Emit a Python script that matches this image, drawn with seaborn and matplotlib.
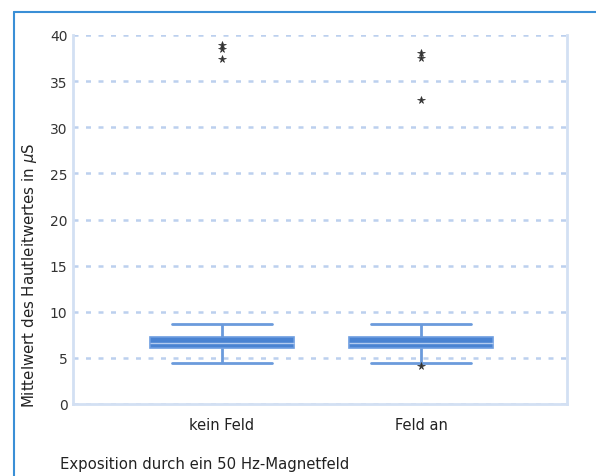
import numpy as np
import pandas as pd
import matplotlib
matplotlib.use("Agg")
import matplotlib.pyplot as plt
import seaborn as sns

categories = ["kein Feld", "Feld an"]
# observations read/estimated from the box plot (whiskers, quartiles, median, outliers)
kein_feld = [4.44, 5.0, 5.4, 5.7, 5.95, 6.1, 6.1, 6.3, 6.45, 6.55, 6.6, 6.6,
             6.9, 7.0, 7.1, 7.2, 7.3, 7.3, 7.9, 8.67, 37.4, 38.5, 38.9]
feld_an = [4.1, 4.44, 5.1, 5.5, 5.8, 6.1, 6.1, 6.2, 6.3, 6.4, 6.5, 6.65, 6.65,
           6.75, 6.9, 7.05, 7.2, 7.3, 7.3, 7.8, 8.67, 32.9, 37.5, 38.05]
y_ticks = [0, 5, 10, 15, 20, 25, 30, 35, 40]

df = pd.DataFrame({
    "group": [categories[0]] * len(kein_feld) + [categories[1]] * len(feld_an),
    "value": kein_feld + feld_an,
})

sns.set_style("white")
plt.rcParams["font.family"] = ["DejaVu Sans"]

fig = plt.figure(figsize=(5.96, 4.77), dpi=100)
ax = fig.add_axes([73 / 596, 1 - 405 / 477, (567 - 73) / 596, (405 - 36) / 477])

box_blue = "#4a83d2"
line_blue = "#6b9bdc"
sns.boxplot(
    data=df, x="group", y="value", order=categories, ax=ax,
    width=0.72, color=box_blue, linecolor=line_blue, linewidth=2,
    boxprops=dict(facecolor=box_blue, edgecolor="#6d9de0", linewidth=1.2),
    medianprops=dict(color="#b3cbef", linewidth=1.0),
    whiskerprops=dict(color=line_blue, linewidth=2),
    capprops=dict(color=line_blue, linewidth=2),
    flierprops=dict(marker="*", markerfacecolor="#333333", markeredgecolor="#333333",
                    markeredgewidth=0.5, markersize=5.5),
    capwidths=0.5,
)

ax.set_ylim(0, 40)
ax.set_xlim(-0.749, 1.734)
ax.set_yticks(y_ticks)
ax.set_yticklabels([str(t) for t in y_ticks], fontsize=10, color="#333333")
ax.tick_params(axis="x", labelsize=10.5, colors="#222222", length=0, pad=9)
ax.tick_params(axis="y", length=0, pad=4)
ax.set_xlabel("")
ax.set_ylabel("")

ax.set_axisbelow(True)
ax.yaxis.grid(True, color="#bcd0ee", linestyle=(0, (2, 3)), linewidth=1.8)
for s in ["left", "bottom", "right"]:
    ax.spines[s].set_visible(True)
    ax.spines[s].set_color("#d3e0f3")
    ax.spines[s].set_linewidth(2)
ax.spines["top"].set_visible(False)

fig.text(30 / 596, 1 - 275 / 477, "Mittelwert des Hautleitwertes in $\\mu$S",
         rotation=90, ha="center", va="center", fontsize=10.8, color="#222222")
fig.text(60 / 596, 1 - 465 / 477, "Exposition durch ein 50 Hz-Magnetfeld",
         ha="left", va="center", fontsize=10.7, color="#222222")

# outer panel frame lines (top and left)
fig.add_artist(plt.Line2D([14 / 596, 1.0], [1 - 13 / 477, 1 - 13 / 477],
                          transform=fig.transFigure, color="#3a8fd6", linewidth=1.5))
fig.add_artist(plt.Line2D([14 / 596, 14 / 596], [0, 1 - 13 / 477],
                          transform=fig.transFigure, color="#3a8fd6", linewidth=1.5))

fig.savefig("out.png", dpi=100)
